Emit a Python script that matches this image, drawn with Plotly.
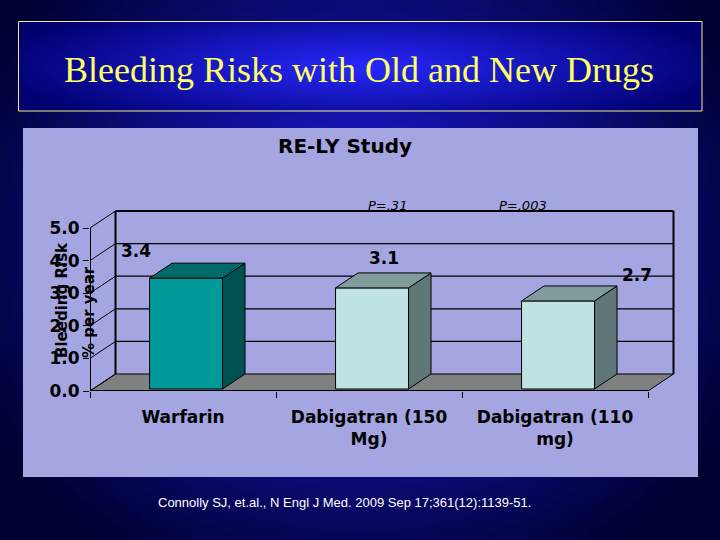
import base64, math, struct, zlib
import plotly.graph_objects as go

# ---------------- data ----------------
CATEGORIES = ["Warfarin", "Dabigatran (150<br>Mg)", "Dabigatran (110<br>mg)"]
VALUES = [3.4, 3.1, 2.7]
VALUE_LABELS = ["3.4", "3.1", "2.7"]
Y_TICKS = [0, 1, 2, 3, 4, 5]
Y_TICK_LABELS = ["0.0", "1.0", "2.0", "3.0", "4.0", "5.0"]
P_LABELS = ["P=.31", "P=.003"]
TITLE = "Bleeding Risks with Old and New Drugs"
CHART_TITLE = "RE-LY Study"
Y_TITLE_1 = "Bleeding Risk"
Y_TITLE_2 = "% per year"
CITATION = "Connolly SJ, et.al., N Engl J Med. 2009 Sep 17;361(12):1139-51."

# ---------------- styles ----------------
FRONT = ["#009a9a", "#bfe2e2", "#bfe2e2"]
SIDE = ["#005252", "#5f7777", "#5f7777"]
TOP = ["#006a6a", "#809b9b", "#809b9b"]
LAVENDER = "#a5a5e1"
BOLD = "DejaVu Sans"

W, H = 720, 540
L, R, T, B = 90, 30, 200, 149
PW, PH = W - L - R, H - T - B
X_UNIT, Y_UNIT = 186.0, 32.6
XR = [-0.5, -0.5 + PW / X_UNIT]
YR = [0, PH / Y_UNIT]
DX, DY = 25.5 / X_UNIT, 17.0 / Y_UNIT
BW = 73.0 / X_UNIT
F0 = 0.12  # bar front depth fraction


def paper_x(px):
    return (px - L) / PW


def paper_y(py):
    return (H - B - py) / PH


def png_uri(w, h, fn):
    raw = bytearray()
    for y in range(h):
        raw.append(0)
        for x in range(w):
            raw += bytes(fn(x, y))

    def chunk(tag, data):
        c = struct.pack(">I", len(data)) + tag + data
        return c + struct.pack(">I", zlib.crc32(tag + data) & 0xFFFFFFFF)

    png = (b"\x89PNG\r\n\x1a\n"
           + chunk(b"IHDR", struct.pack(">IIBBBBB", w, h, 8, 2, 0, 0, 0))
           + chunk(b"IDAT", zlib.compress(bytes(raw), 9))
           + chunk(b"IEND", b""))
    return "data:image/png;base64," + base64.b64encode(png).decode()


def lerp(c0, c1, t):
    return tuple(int(round(a * (1 - t) + b * t)) for a, b in zip(c0, c1))


def slide_fn(x, y):
    nx = (x + 0.5) / 96 * W
    ny = (y + 0.5) / 72 * H
    d = math.sqrt(((nx - 360) / 430) ** 2 + ((ny - 240) / 380) ** 2)
    return lerp((28, 28, 230), (0, 0, 48), min(1.0, d))


def box_fn(x, y):
    u = (x + 0.5) / 136
    v = (y + 0.5) / 18
    d = math.sqrt(((u - 0.5) / 0.55) ** 2 + ((v - 0.5) / 0.8) ** 2)
    return lerp((40, 40, 255), (0, 0, 110), min(1.0, d))


def note(text, px, py, font, **kw):
    return dict(text=text, xref="paper", yref="paper", x=paper_x(px), y=paper_y(py),
                xanchor="center", yanchor="middle", showarrow=False, font=font, **kw)


fig = go.Figure()

# front faces of bars
for i, v in enumerate(VALUES):
    fig.add_trace(go.Bar(
        x=[i + F0 * DX], y=[v], base=[F0 * DY], width=[BW],
        marker=dict(color=FRONT[i], line=dict(color="black", width=1)),
        hoverinfo="skip", showlegend=False))

# side and top faces
for i, v in enumerate(VALUES):
    xl = i + F0 * DX - BW / 2
    xr = i + F0 * DX + BW / 2
    b0 = F0 * DY
    t0 = b0 + v
    side_x = [xr, xr + (1 - F0) * DX, xr + (1 - F0) * DX, xr, xr]
    side_y = [b0, DY, t0 + (1 - F0) * DY, t0, b0]
    top_x = [xl, xr, xr + (1 - F0) * DX, xl + (1 - F0) * DX, xl]
    top_y = [t0, t0, t0 + (1 - F0) * DY, t0 + (1 - F0) * DY, t0]
    for fx, fy, col in ((side_x, side_y, SIDE[i]), (top_x, top_y, TOP[i])):
        fig.add_trace(go.Scatter(
            x=fx, y=fy, mode="lines", fill="toself", fillcolor=col,
            line=dict(color="black", width=1), hoverinfo="skip",
            showlegend=False))

shapes = []
# lavender chart area
shapes.append(dict(type="rect", xref="paper", yref="paper",
                   x0=paper_x(23), x1=paper_x(698), y0=paper_y(477), y1=paper_y(128),
                   fillcolor=LAVENDER, line=dict(width=0), layer="below"))
# title box border
shapes.append(dict(type="rect", xref="paper", yref="paper",
                   x0=paper_x(18.5), x1=paper_x(702), y0=paper_y(111), y1=paper_y(21.5),
                   fillcolor="rgba(0,0,0,0)", line=dict(color="#f0f08a", width=1)))

x_left, x_right = XR[0], len(CATEGORIES) - 0.5
top = Y_TICKS[-1]
# floor
shapes.append(dict(type="path", xref="x", yref="y", layer="below",
                   path=f"M {x_left},0 L {x_right},0 L {x_right + DX},{DY} L {x_left + DX},{DY} Z",
                   fillcolor="#808080", line=dict(color="black", width=1)))
# back wall gridlines
for k in Y_TICKS[1:-1]:
    shapes.append(dict(type="line", xref="x", yref="y", layer="below",
                       x0=x_left + DX, x1=x_right + DX, y0=k + DY, y1=k + DY,
                       line=dict(color="black", width=1.2)))
# back wall border
for (a0, b0_, a1, b1_) in ((x_left + DX, top + DY, x_right + DX, top + DY),
                           (x_left + DX, DY, x_left + DX, top + DY),
                           (x_right + DX, DY, x_right + DX, top + DY)):
    shapes.append(dict(type="line", xref="x", yref="y", layer="below",
                       x0=a0, y0=b0_, x1=a1, y1=b1_, line=dict(color="black", width=2)))
# side wall diagonals
for k in Y_TICKS:
    shapes.append(dict(type="line", xref="x", yref="y", layer="below",
                       x0=x_left, y0=k, x1=x_left + DX, y1=k + DY,
                       line=dict(color="black", width=1)))
# front axes
shapes.append(dict(type="line", xref="x", yref="y", x0=x_left, x1=x_left, y0=0, y1=top,
                   line=dict(color="black", width=2)))
shapes.append(dict(type="line", xref="x", yref="y", x0=x_left, x1=x_right, y0=0, y1=0,
                   line=dict(color="black", width=2)))

annotations = []
annotations.append(note(TITLE, 359, 70, dict(family="Liberation Serif", size=36, color="#ffff66")))
annotations.append(note(CHART_TITLE, 345, 146, dict(family=BOLD, size=20, color="black", weight="bold")))
for txt, px in zip(P_LABELS, (387, 523)):
    annotations.append(note(txt, px, 205, dict(family=BOLD, size=13, color="black", style="italic")))
LABEL_SHIFTS = [(-47, 29), (15, 32), (82, 28)]
for i, (v, txt) in enumerate(zip(VALUES, VALUE_LABELS)):
    annotations.append(dict(text=txt, xref="x", yref="y", x=i, y=v,
                            xanchor="center", yanchor="middle",
                            xshift=LABEL_SHIFTS[i][0], yshift=LABEL_SHIFTS[i][1],
                            showarrow=False,
                            font=dict(family=BOLD, size=17, color="black", weight="bold")))
annotations.append(note(Y_TITLE_1, 62, 300, dict(family=BOLD, size=15, color="black", weight="bold"),
                        textangle=-90))
annotations.append(note(Y_TITLE_2, 89, 312, dict(family=BOLD, size=15, color="black", weight="bold"),
                        textangle=-90))
annotations.append(note(CITATION, 344, 502, dict(family="Liberation Sans", size=13, color="white")))

images = [
    dict(source=png_uri(96, 72, slide_fn), xref="paper", yref="paper",
         x=paper_x(0), y=paper_y(0), sizex=W / PW, sizey=H / PH, sizing="stretch",
         xanchor="left", yanchor="top", layer="below"),
    dict(source=png_uri(136, 18, box_fn), xref="paper", yref="paper",
         x=paper_x(18.5), y=paper_y(21.5), sizex=(702 - 18.5) / PW, sizey=(111 - 21.5) / PH,
         sizing="stretch", xanchor="left", yanchor="top", layer="below"),
]

fig.update_layout(
    width=W, height=H, autosize=False,
    margin=dict(l=L, r=R, t=T, b=B, pad=0),
    paper_bgcolor="#000050", plot_bgcolor="rgba(0,0,0,0)",
    shapes=shapes, annotations=annotations, images=images,
    showlegend=False, barmode="overlay",
    xaxis=dict(range=XR, tickmode="array", tickvals=list(range(len(CATEGORIES))),
               ticktext=CATEGORIES, ticks="", showgrid=False, zeroline=False, showline=False,
               ticklabelstandoff=14, automargin=False, fixedrange=True,
               tickfont=dict(family=BOLD, size=17, color="black", weight="bold"),
               minor=dict(tickmode="array", tickvals=[k - 0.5 for k in range(len(CATEGORIES) + 1)],
                          ticks="outside", ticklen=6, tickcolor="black", tickwidth=1, showgrid=False)),
    yaxis=dict(range=YR, tickmode="array", tickvals=Y_TICKS, ticktext=Y_TICK_LABELS,
               ticks="outside", ticklen=6, tickcolor="black", tickwidth=1,
               showgrid=False, zeroline=False, showline=False, automargin=False, fixedrange=True,
               tickfont=dict(family=BOLD, size=17, color="black", weight="bold")),
)

fig.write_html("out.html", config={"displayModeBar": False},
               post_script="document.body.style.margin='0px';")
